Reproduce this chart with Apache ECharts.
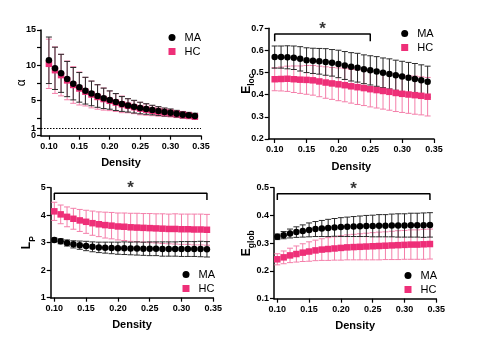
<!DOCTYPE html>
<html><head><meta charset="utf-8">
<script src="https://cdn.jsdelivr.net/npm/echarts@6.0.0/dist/echarts.min.js"></script>
<style>html,body{margin:0;padding:0;background:#fff}#c{width:486px;height:343px}</style>
</head><body><div id="c"></div>
<script>
const density = [0.10,0.11,0.12,0.13,0.14,0.15,0.16,0.17,0.18,0.19,0.20,0.21,0.22,0.23,0.24,0.25,0.26,0.27,0.28,0.29,0.30,0.31,0.32,0.33,0.34];
const xTicks = [0.10,0.15,0.20,0.25,0.30,0.35];

const alphaMA   = [10.7,9.56,8.85,8.04,7.38,6.86,6.39,6.0,5.63,5.3,5.06,4.78,4.5,4.3,4.12,3.93,3.79,3.64,3.5,3.36,3.27,3.12,2.98,2.89,2.79];
const alphaMAsd = [3.3,3.0,2.7,2.5,2.3,2.1,1.9,1.75,1.6,1.45,1.3,1.2,1.05,0.95,0.9,0.82,0.75,0.68,0.62,0.57,0.52,0.48,0.45,0.42,0.4];
const alphaHC   = [10.2,9.3,8.6,7.85,7.2,6.7,6.25,5.85,5.5,5.2,4.95,4.7,4.45,4.25,4.05,3.85,3.7,3.55,3.42,3.3,3.2,3.07,2.95,2.85,2.72];
const alphaHCsd = [3.5,3.3,2.95,2.75,2.6,2.34,2.03,1.9,1.74,1.57,1.39,1.26,1.18,1.0,0.92,0.88,0.8,0.71,0.65,0.58,0.54,0.5,0.5,0.46,0.42];

const elocMA   = [0.570,0.570,0.569,0.567,0.562,0.556,0.553,0.551,0.548,0.544,0.539,0.532,0.526,0.522,0.515,0.510,0.505,0.499,0.494,0.488,0.482,0.477,0.471,0.465,0.459];
const elocMAsd = [0.05,0.05,0.052,0.053,0.055,0.056,0.057,0.058,0.06,0.06,0.062,0.063,0.064,0.065,0.065,0.066,0.067,0.067,0.068,0.068,0.069,0.069,0.07,0.07,0.07];
const elocHC   = [0.470,0.471,0.472,0.470,0.468,0.467,0.465,0.460,0.455,0.451,0.447,0.443,0.438,0.434,0.430,0.425,0.421,0.417,0.413,0.408,0.404,0.401,0.398,0.395,0.391];
const elocHCsd = [0.052,0.054,0.057,0.06,0.062,0.065,0.067,0.069,0.071,0.072,0.074,0.075,0.076,0.078,0.079,0.08,0.081,0.082,0.083,0.084,0.084,0.085,0.086,0.086,0.087];

const lpMA   = [3.10,3.05,2.99,2.94,2.91,2.88,2.85,2.83,2.82,2.81,2.80,2.80,2.79,2.79,2.78,2.78,2.78,2.77,2.77,2.77,2.77,2.77,2.77,2.77,2.76];
const lpMAsd = [0.07,0.09,0.11,0.13,0.15,0.17,0.18,0.19,0.2,0.21,0.22,0.23,0.23,0.24,0.24,0.25,0.25,0.26,0.26,0.26,0.27,0.27,0.27,0.28,0.28];
const lpHC   = [4.14,4.03,3.94,3.87,3.81,3.76,3.71,3.67,3.64,3.62,3.59,3.58,3.56,3.55,3.54,3.53,3.52,3.51,3.50,3.50,3.49,3.49,3.48,3.48,3.47];
const lpHCsd = [0.33,0.34,0.36,0.38,0.40,0.42,0.44,0.45,0.47,0.48,0.49,0.5,0.51,0.52,0.52,0.53,0.53,0.54,0.54,0.55,0.55,0.55,0.56,0.56,0.56];

const eglobMA   = [0.323,0.329,0.335,0.340,0.344,0.348,0.351,0.353,0.355,0.357,0.358,0.359,0.360,0.361,0.362,0.362,0.363,0.363,0.364,0.364,0.364,0.365,0.365,0.365,0.366];
const eglobMAsd = [0.01,0.013,0.016,0.019,0.022,0.025,0.027,0.029,0.031,0.032,0.034,0.035,0.036,0.037,0.038,0.039,0.04,0.04,0.041,0.042,0.042,0.043,0.043,0.044,0.044];
const eglobHC   = [0.242,0.249,0.256,0.261,0.266,0.270,0.274,0.277,0.279,0.281,0.283,0.285,0.286,0.287,0.288,0.289,0.290,0.291,0.292,0.293,0.294,0.295,0.295,0.296,0.297];
const eglobHCsd = [0.02,0.023,0.026,0.029,0.032,0.035,0.037,0.039,0.041,0.042,0.044,0.045,0.046,0.047,0.048,0.049,0.05,0.05,0.051,0.052,0.052,0.053,0.053,0.054,0.054];

// significance brackets: [x start, x end, top y, leg bottom y]
const elocBracket  = [0.10, 0.25, 0.674, 0.642];
const lpBracket    = [0.10, 0.34, 4.80, 4.55];
const eglobBracket = [0.10, 0.34, 0.478, 0.456];

const PINK = '#EE2F78', PINK_ERR = '#F47FAA', BLACK = '#000', BLACK_ERR = '#2a2a2a';
const FONT = 'Liberation Sans';

const panels = [
  {grid:{left:41, top:30, width:160, height:105.7}, xMin:0.087, yMin:0, yMax:15,
   yLabels:[0,5,10,15], extraLabels:[1], yTicks:[0,1,2.5,5,7.5,10,12.5,15], yFmt:v=>String(v),
   name:'α', nameRich:false, nameGap:13, ma:alphaMA, maSd:alphaMAsd, hc:alphaHC, hcSd:alphaHCsd,
   dotted:1, bracket:null, legend:{left:163.5, top:27}},
  {grid:{left:268.7, top:28.3, width:165.3, height:110.7}, xMin:0.0906, yMin:0.2, yMax:0.7,
   yLabels:[0.2,0.3,0.4,0.5,0.6,0.7], yTicks:[0.2,0.3,0.4,0.5,0.6,0.7], yFmt:v=>v.toFixed(1),
   name:'{m|E}{s|loc}', nameRich:true, nameGap:12.5, ma:elocMA, maSd:elocMAsd, hc:elocHC, hcSd:elocHCsd,
   dotted:null, bracket:elocBracket, legend:{left:396.2, top:23}},
  {grid:{left:50.7, top:187.7, width:162.6, height:110}, xMin:0.0943, yMin:1, yMax:5,
   yLabels:[1,2,3,4,5], yTicks:[1,2,3,4,5], yFmt:v=>String(v),
   name:'{m|L}{s|P}', nameRich:true, nameGap:14, ma:lpMA, maSd:lpMAsd, hc:lpHC, hcSd:lpHCsd,
   dotted:null, bracket:lpBracket, legend:{left:177.5, top:264}},
  {grid:{left:274, top:187.7, width:162.3, height:111}, xMin:0.0948, yMin:0.1, yMax:0.5,
   yLabels:[0.1,0.2,0.3,0.4,0.5], yTicks:[0.1,0.2,0.3,0.4,0.5], yFmt:v=>v.toFixed(1),
   name:'{m|E}{s|glob}', nameRich:true, nameGap:17.5, ma:eglobMA, maSd:eglobMAsd, hc:eglobHC, hcSd:eglobHCsd,
   dotted:null, bracket:eglobBracket, legend:{left:399.5, top:265}}
];

function errRender(color){
  return function(params, api){
    const x = api.value(0), m = api.value(1), s = api.value(2);
    const t = api.coord([x, m + s]), b = api.coord([x, m - s]);
    const hw = 3;
    const st = {stroke: color, lineWidth: 1};
    return {type:'group', children:[
      {type:'line', shape:{x1:t[0], y1:t[1], x2:b[0], y2:b[1]}, style:st},
      {type:'line', shape:{x1:t[0]-hw, y1:t[1], x2:t[0]+hw, y2:t[1]}, style:st},
      {type:'line', shape:{x1:b[0]-hw, y1:b[1], x2:b[0]+hw, y2:b[1]}, style:st}
    ]};
  };
}

const option = {animation:false, backgroundColor:'#fff', grid:[], xAxis:[], yAxis:[], series:[], legend:[]};
const axisLine = {show:true, lineStyle:{color:'#000', width:1.5}};
const axisTick = {show:true, inside:false, length:4, lineStyle:{color:'#000', width:1.2}};
const labelStyle = {fontFamily:FONT, fontWeight:'bold', fontSize:9, color:'#000', hideOverlap:false, showMinLabel:true, showMaxLabel:true};
panels.forEach((p, i) => {
  option.grid.push(p.grid);
  option.xAxis.push({type:'value', gridIndex:i, min:p.xMin, max:0.35,
    name:'Density', nameLocation:'middle', nameGap:22, nameMoveOverlap:false,
    nameTextStyle:{fontFamily:FONT, fontWeight:'bold', fontSize:11, color:'#000'},
    axisLine, splitLine:{show:false},
    axisTick:Object.assign({}, axisTick, {customValues:xTicks}),
    axisLabel:Object.assign({customValues:xTicks, formatter:v=>v.toFixed(2), margin:6}, labelStyle)});
  const nameStyle = p.nameRich ?
    {fontFamily:FONT, color:'#000', rich:{m:{fontFamily:FONT, fontWeight:'bold', fontSize:12, color:'#000', lineHeight:16, verticalAlign:'top'},
                                          s:{fontFamily:FONT, fontWeight:'bold', fontSize:8.5, color:'#000', lineHeight:16, verticalAlign:'bottom', padding:[6,0,0,0]}}} :
    {fontFamily:FONT, fontSize:12, color:'#000'};
  option.yAxis.push({type:'value', gridIndex:i, min:p.yMin, max:p.yMax,
    name:p.name, nameLocation:'middle', nameGap:p.nameGap, nameRotate:90, nameTextStyle:nameStyle, nameMoveOverlap:false,
    axisLine, splitLine:{show:false},
    axisTick:Object.assign({}, axisTick, {customValues:p.yTicks}),
    axisLabel:Object.assign({customValues:p.yLabels, formatter:p.yFmt, margin:5}, labelStyle)});
  const yIdx = i;
  // error bars
  option.series.push({type:'custom', name:'HC sd', xAxisIndex:i, yAxisIndex:yIdx, renderItem:errRender(PINK_ERR),
    data:density.map((d,k)=>[d, p.hc[k], p.hcSd[k]]), encode:{x:0, y:1}, z:2});
  option.series.push({type:'custom', name:'MA sd', xAxisIndex:i, yAxisIndex:yIdx, renderItem:errRender(BLACK_ERR),
    data:density.map((d,k)=>[d, p.ma[k], p.maSd[k]]), encode:{x:0, y:1}, z:3});
  option.series.push({type:'scatter', name:'HC', xAxisIndex:i, yAxisIndex:yIdx, symbol:'rect', symbolSize:6.5,
    itemStyle:{color:PINK, opacity:1}, data:density.map((d,k)=>[d, p.hc[k]]), z:4,
    markLine: p.dotted!=null ? {silent:true, symbol:'none', label:{show:false}, lineStyle:{color:'#000', type:[1.5,1.5], width:1},
      data:[{yAxis:p.dotted}]} : undefined});
  option.series.push({type:'scatter', name:'MA', xAxisIndex:i, yAxisIndex:yIdx, symbol:'circle', symbolSize:6.5,
    itemStyle:{color:BLACK, opacity:1}, data:density.map((d,k)=>[d, p.ma[k]]), z:5});
  if (p.bracket) {
    const [x0, x1, yt, yb] = p.bracket;
    option.series.push({type:'line', name:'bracket', xAxisIndex:i, yAxisIndex:yIdx, symbol:'none',
      lineStyle:{color:'#000', width:1.5}, data:[[x0,yb],[x0,yt],[x1,yt],[x1,yb]], z:6});
    option.series.push({type:'scatter', name:'sig', xAxisIndex:i, yAxisIndex:yIdx, symbolSize:0,
      data:[[(x0+x1)/2, yt]], z:6,
      label:{show:true, formatter:'*', position:'top', distance:-4, fontFamily:FONT, fontWeight:'bold', fontSize:17, color:'#000'}});
  }
  option.legend.push({orient:'vertical', left:p.legend.left, top:p.legend.top, data:['MA','HC'],
    itemWidth:7, itemHeight:7, itemGap:3, selectedMode:false,
    itemStyle:{opacity:1},
    textStyle:{fontFamily:FONT, fontSize:11, color:'#000', padding:[0,0,0,4]}});
});
// extra overlay y axis for labels that sit too close to neighbours (e.g. "1" next to "0")
panels.forEach((p, i) => {
  if (p.extraLabels) {
    option.yAxis.push({type:'value', gridIndex:i, min:p.yMin, max:p.yMax, position:'left',
      axisLine:{show:false}, axisTick:{show:false}, splitLine:{show:false},
      axisLabel:Object.assign({customValues:p.extraLabels, formatter:p.yFmt, margin:5}, labelStyle)});
  }
});
const chart = echarts.init(document.getElementById('c'), null, {renderer:'canvas'});
chart.setOption(option);
</script></body></html>
